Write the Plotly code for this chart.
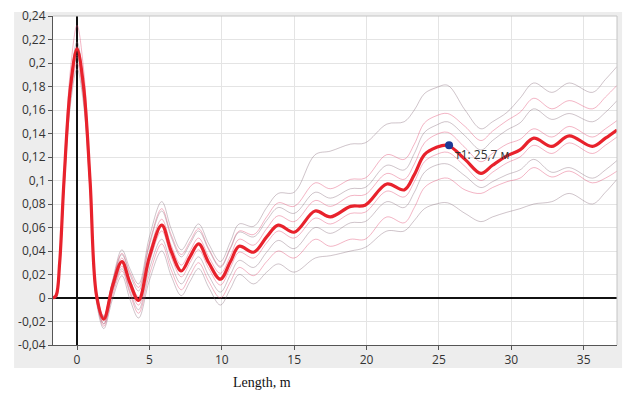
import plotly.graph_objects as go

# ---- data ----
X = [-1.66, -1.45, -1.2, -0.9, -0.45, 0.0, 0.45, 0.9, 1.35, 1.85,
     2.45, 3.1, 3.65, 4.25, 5.0, 5.85, 6.5, 7.2, 7.8, 8.4,
     9.1, 9.9, 10.6, 11.2, 12.2, 13.1, 13.9, 15.0, 16.45, 17.5,
     18.9, 19.9, 21.4, 22.6, 23.3, 24.0, 24.8, 25.6, 26.8, 27.9,
     28.7, 29.7, 30.6, 31.55, 32.8, 34.0, 35.6, 36.5, 37.3]

MAIN = [0.000, 0.002, 0.030, 0.100, 0.180, 0.212, 0.180, 0.100, 0.002, -0.018,
        0.010, 0.031, 0.013, -0.002, 0.035, 0.062, 0.040, 0.023, 0.035, 0.046,
        0.030, 0.016, 0.031, 0.044, 0.039, 0.052, 0.062, 0.056, 0.074, 0.069,
        0.078, 0.079, 0.097, 0.092, 0.105, 0.122, 0.128, 0.130, 0.118, 0.106,
        0.113, 0.121, 0.126, 0.136, 0.129, 0.138, 0.129, 0.136, 0.143]

THIN_A = [0.000, 0.002, 0.030, 0.100, 0.180, 0.212, 0.180, 0.100, 0.003, -0.016,
          0.015, 0.041, 0.025, 0.012, 0.052, 0.082, 0.059, 0.041, 0.052, 0.063,
          0.046, 0.031, 0.048, 0.063, 0.061, 0.077, 0.089, 0.090, 0.122, 0.125,
          0.131, 0.132, 0.148, 0.150, 0.160, 0.174, 0.179, 0.181, 0.160, 0.144,
          0.150, 0.158, 0.170, 0.183, 0.175, 0.183, 0.175, 0.186, 0.197]

THIN_B = [0.000, 0.003, 0.034, 0.108, 0.195, 0.232, 0.195, 0.106, 0.004, -0.015,
          0.014, 0.038, 0.022, 0.009, 0.047, 0.076, 0.054, 0.037, 0.048, 0.059,
          0.042, 0.027, 0.043, 0.057, 0.054, 0.069, 0.081, 0.078, 0.098, 0.093,
          0.101, 0.102, 0.122, 0.118, 0.131, 0.149, 0.155, 0.157, 0.146, 0.134,
          0.142, 0.151, 0.158, 0.170, 0.161, 0.168, 0.161, 0.171, 0.181]

THIN_C = [0.000, 0.002, 0.031, 0.102, 0.184, 0.218, 0.184, 0.102, 0.002, -0.016,
          0.013, 0.037, 0.020, 0.006, 0.045, 0.074, 0.052, 0.035, 0.046, 0.057,
          0.041, 0.026, 0.042, 0.056, 0.052, 0.066, 0.077, 0.072, 0.090, 0.085,
          0.093, 0.094, 0.113, 0.109, 0.123, 0.141, 0.147, 0.150, 0.138, 0.126,
          0.134, 0.143, 0.149, 0.161, 0.152, 0.157, 0.150, 0.158, 0.168]

THIN_D = [0.000, 0.002, 0.030, 0.101, 0.182, 0.214, 0.182, 0.101, 0.003, -0.017,
          0.012, 0.034, 0.016, 0.001, 0.039, 0.067, 0.045, 0.028, 0.040, 0.051,
          0.035, 0.021, 0.036, 0.050, 0.045, 0.059, 0.070, 0.065, 0.083, 0.078,
          0.087, 0.088, 0.106, 0.101, 0.114, 0.132, 0.139, 0.141, 0.128, 0.116,
          0.123, 0.131, 0.135, 0.144, 0.137, 0.146, 0.137, 0.144, 0.151]

THIN_E = [0.000, 0.001, 0.028, 0.097, 0.176, 0.207, 0.176, 0.097, 0.000, -0.022,
          0.006, 0.027, 0.009, -0.006, 0.030, 0.057, 0.035, 0.018, 0.030, 0.041,
          0.025, 0.011, 0.026, 0.039, 0.034, 0.047, 0.057, 0.051, 0.068, 0.063,
          0.072, 0.073, 0.091, 0.086, 0.099, 0.116, 0.122, 0.124, 0.112, 0.100,
          0.107, 0.115, 0.120, 0.130, 0.123, 0.132, 0.123, 0.130, 0.137]

THIN_F = [0.000, 0.001, 0.027, 0.095, 0.174, 0.205, 0.174, 0.095, -0.001, -0.022,
          0.005, 0.025, 0.006, -0.010, 0.025, 0.050, 0.029, 0.012, 0.024, 0.035,
          0.019, 0.005, 0.020, 0.032, 0.026, 0.039, 0.049, 0.042, 0.060, 0.055,
          0.064, 0.065, 0.082, 0.077, 0.090, 0.107, 0.113, 0.114, 0.104, 0.094,
          0.099, 0.105, 0.109, 0.118, 0.107, 0.111, 0.102, 0.109, 0.117]

THIN_G = [0.000, 0.001, 0.026, 0.093, 0.170, 0.200, 0.170, 0.093, -0.002, -0.024,
          0.002, 0.023, 0.004, -0.013, 0.020, 0.046, 0.024, 0.007, 0.019, 0.030,
          0.014, 0.000, 0.014, 0.026, 0.019, 0.031, 0.040, 0.034, 0.050, 0.044,
          0.050, 0.050, 0.069, 0.064, 0.077, 0.094, 0.100, 0.102, 0.092, 0.089,
          0.094, 0.099, 0.102, 0.111, 0.103, 0.108, 0.098, 0.102, 0.108]

THIN_H = [0.000, 0.000, 0.024, 0.090, 0.165, 0.195, 0.165, 0.090, -0.004, -0.026,
          -0.001, 0.019, -0.001, -0.017, 0.015, 0.040, 0.019, 0.002, 0.014, 0.025,
          0.009, -0.006, 0.008, 0.020, 0.012, 0.022, 0.029, 0.022, 0.034, 0.036,
          0.040, 0.043, 0.057, 0.057, 0.066, 0.076, 0.080, 0.081, 0.072, 0.065,
          0.069, 0.073, 0.076, 0.080, 0.082, 0.089, 0.080, 0.090, 0.101]

MARKER_X = [25.7]
MARKER_Y = [0.130]
MARKER_LABEL = "т1: 25,7 м"

X_TICKS = [0, 5, 10, 15, 20, 25, 30, 35]
X_TICK_LABELS = ["0", "5", "10", "15", "20", "25", "30", "35"]
Y_TICKS = [-0.04, -0.02, 0, 0.02, 0.04, 0.06, 0.08, 0.1, 0.12, 0.14,
           0.16, 0.18, 0.2, 0.22, 0.24]
Y_TICK_LABELS = ["-0,04", "-0,02", "0", "0,02", "0,04", "0,06", "0,08", "0,1",
                 "0,12", "0,14", "0,16", "0,18", "0,2", "0,22", "0,24"]
X_TITLE = "Length, m"

GREY_THIN = "rgba(130,100,115,0.38)"
PINK_THIN = "rgba(225,70,110,0.40)"

fig = go.Figure()
thin = [(THIN_A, GREY_THIN), (THIN_B, PINK_THIN), (THIN_C, GREY_THIN),
        (THIN_D, PINK_THIN), (THIN_E, PINK_THIN), (THIN_F, GREY_THIN),
        (THIN_G, PINK_THIN), (THIN_H, GREY_THIN)]
for ys, col in thin:
    fig.add_trace(go.Scatter(x=X, y=ys, mode="lines",
                             line=dict(color=col, width=1, shape="spline", smoothing=1.0),
                             hoverinfo="skip", showlegend=False))

fig.add_trace(go.Scatter(x=X, y=MAIN, mode="lines",
                         line=dict(color="#e8222c", width=3.2, shape="spline", smoothing=1.0),
                         showlegend=False))

fig.add_trace(go.Scatter(x=MARKER_X, y=MARKER_Y, mode="markers",
                         marker=dict(color="#1d3a96", size=8),
                         showlegend=False))

fig.add_annotation(x=MARKER_X[0] + 0.3, y=MARKER_Y[0] - 0.008, xref="x", yref="y",
                   text=MARKER_LABEL, showarrow=False, xanchor="left", yanchor="middle",
                   font=dict(family="Open Sans, Noto Sans, sans-serif", size=12, color="#333"))

fig.add_annotation(x=0.37, y=-0.115, xref="paper", yref="paper",
                   text=X_TITLE, showarrow=False, xanchor="center", yanchor="middle",
                   font=dict(family="Liberation Serif, Times New Roman, serif", size=14, color="#111"))

# grey frame behind the plot area, and white plot area on top of it
fig.add_shape(type="rect", xref="paper", yref="paper", x0=-0.069, x1=1.009,
              y0=-0.07, y1=1.012, fillcolor="#ededed", line=dict(width=0), layer="below")
fig.add_shape(type="rect", xref="x domain", yref="y domain", x0=0, x1=1,
              y0=0, y1=1, fillcolor="white", line=dict(width=0), layer="below")
# light top/right border
fig.add_shape(type="line", xref="paper", yref="paper", x0=0, x1=1, y0=1, y1=1,
              line=dict(color="#c4c4c4", width=1))
fig.add_shape(type="line", xref="paper", yref="paper", x0=1, x1=1, y0=0, y1=1,
              line=dict(color="#c4c4c4", width=1))

axis_font = dict(family="Open Sans, Noto Sans, sans-serif", size=12, color="#333")
fig.update_layout(
    width=624, height=394,
    margin=dict(l=53, r=7, t=14, b=49),
    paper_bgcolor="white", plot_bgcolor="white",
    font=axis_font,
    xaxis=dict(range=[-1.66, 37.3], tickvals=X_TICKS, ticktext=X_TICK_LABELS,
               showgrid=True, gridcolor="#e4e4e4", gridwidth=1,
               zeroline=True, zerolinecolor="#111", zerolinewidth=2,
               showline=True, linecolor="#555", linewidth=1, mirror=False,
               ticks="outside", ticklen=4, tickcolor="#555", tickfont=axis_font),
    yaxis=dict(range=[-0.04, 0.24], tickvals=Y_TICKS, ticktext=Y_TICK_LABELS,
               showgrid=True, gridcolor="#e4e4e4", gridwidth=1,
               zeroline=True, zerolinecolor="#111", zerolinewidth=2,
               showline=True, linecolor="#555", linewidth=1, mirror=False,
               ticks="outside", ticklen=4, tickcolor="#555", tickfont=axis_font),
)

fig.write_html("out.html", config={"displayModeBar": False},
               post_script="document.body.style.margin='0';")
